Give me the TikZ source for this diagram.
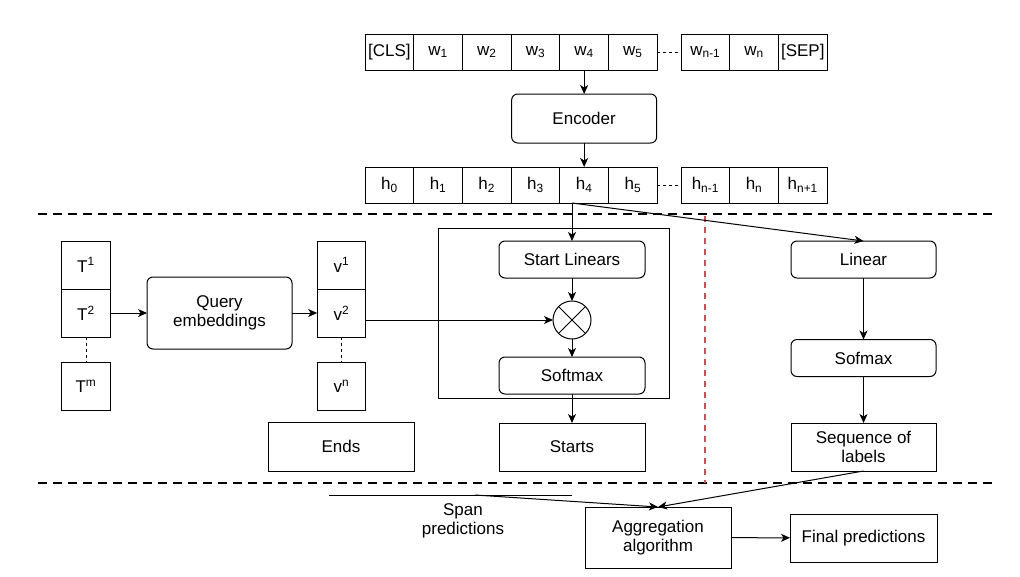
\documentclass[tikz,border=0pt]{standalone}
\usepackage{fontspec}
\setmainfont{Liberation Sans}
\usetikzlibrary{positioning,arrows.meta}
\definecolor{sepred}{RGB}{204,80,80}

\tikzset{
  cell/.style={draw, minimum width=48.7pt, minimum height=36pt, inner sep=0pt, outer sep=0pt},
  tcell/.style={cell, minimum height=48pt},
  block/.style={draw, align=center, inner sep=0pt, outer sep=0pt},
  rblock/.style={block, rounded corners=6pt},
  wide/.style={minimum width=146pt, minimum height=37pt},
  sepline/.style={line width=2pt, dash pattern=on 9pt off 6pt},
  gap/.style={dash pattern=on 3pt off 3pt}
}

\begin{document}
\begin{tikzpicture}[x=1pt, y=-1pt, line width=1pt,
  font=\fontsize{17}{19.5}\selectfont,
  >={Stealth[length=9pt, width=8pt, inset=2.5pt]}]

  \useasboundingbox (0,0) rectangle (1020,576);

  % Define nodes

  % input tokens
  \node[cell] (cls) at (389.35,52) {[CLS]};
  \node[cell, right=0pt of cls] (w1) {w\textsubscript{1}};
  \node[cell, right=0pt of w1] (w2) {w\textsubscript{2}};
  \node[cell, right=0pt of w2] (w3) {w\textsubscript{3}};
  \node[cell, right=0pt of w3] (w4) {w\textsubscript{4}};
  \node[cell, right=0pt of w4] (w5) {w\textsubscript{5}};
  \node[cell] (wn1) at (705.35,52) {w\textsubscript{n-1}};
  \node[cell, right=0pt of wn1] (wn) {w\textsubscript{n}};
  \node[cell, right=0pt of wn] (sep) {[SEP]};

  \node[rblock, minimum width=145pt, minimum height=49pt, below=24pt of w4] (enc) {Encoder};

  % hidden states
  \node[cell] (h0) at (389.35,185) {h\textsubscript{0}};
  \node[cell, right=0pt of h0] (h1) {h\textsubscript{1}};
  \node[cell, right=0pt of h1] (h2) {h\textsubscript{2}};
  \node[cell, right=0pt of h2] (h3) {h\textsubscript{3}};
  \node[cell, right=0pt of h3] (h4) {h\textsubscript{4}};
  \node[cell, right=0pt of h4] (h5) {h\textsubscript{5}};
  \node[cell] (hn1) at (705.35,185) {h\textsubscript{n-1}};
  \node[cell, right=0pt of hn1] (hn) {h\textsubscript{n}};
  \node[cell, right=0pt of hn] (hn2) {h\textsubscript{n+1}};

  % queries
  \node[tcell] (T1) at (86,265) {T\textsuperscript{1}};
  \node[tcell, below=0pt of T1] (T2) {T\textsuperscript{2}};
  \node[tcell] (Tm) at (86,386.5) {T\textsuperscript{m}};
  \node[rblock, minimum width=145pt, minimum height=72pt] (qe) at (219.5,313) {Query\\embeddings};
  \node[tcell] (v1) at (341.5,265) {v\textsuperscript{1}};
  \node[tcell, below=0pt of v1] (v2) {v\textsuperscript{2}};
  \node[tcell] (vn) at (341.5,386.5) {v\textsuperscript{n}};
  \node[block, minimum width=146pt, minimum height=49pt] (ends) at (341,446.5) {Ends};

  % span head
  \node[block, minimum width=231pt, minimum height=170pt] (head) at (553.5,313) {};
  \node[rblock, wide] (sl) at (572,259.5) {Start Linears};
  \node[draw, circle, minimum size=38pt, inner sep=0pt, outer sep=0pt] (ox) at (572,320) {};
  \node[rblock, wide] (sm) at (572,375.5) {Softmax};
  \node[block, minimum width=146pt, minimum height=48pt] (starts) at (572,447) {Starts};

  % sequence labelling head
  \node[rblock, wide, minimum width=145pt] (lin) at (863.5,259.5) {Linear};
  \node[rblock, wide, minimum width=145pt] (sof) at (863.5,358) {Sofmax};
  \node[block, minimum width=145pt, minimum height=48pt] (seq) at (863.5,447) {Sequence of\\labels};

  % aggregation
  \node[block, minimum width=146pt, minimum height=61pt] (agg) at (658,537.5) {Aggregation\\algorithm};
  \node[block, minimum width=147pt, minimum height=48pt] (fin) at (863.5,538) {Final predictions};
  \node[align=center] (spanlbl) at (463,521) {Span\\predictions};
  \coordinate (spanL) at (329,495);
  \coordinate (spanR) at (572,495);
  \coordinate (spanK) at (475,495);
  \coordinate (hsplit) at (h4.south -| sl.north);

  % Separators
  \draw[sepline] (38,214) -- (992,214);
  \draw[sepline] (38,483) -- (992,483);
  \draw[sepred, line width=1.5pt, dash pattern=on 6pt off 5pt] (705,216) -- (705,483);

  % Connect the nodes
  \draw[gap] (w5) -- (wn1);
  \draw[gap] (h5) -- (hn1);
  \draw[gap] (T2) -- (Tm);
  \draw[gap] (v2) -- (vn);
  \draw (ox.north west) -- (ox.south east) (ox.north east) -- (ox.south west);

  \draw[->] (w4) -- (enc);
  \draw[->] (enc) -- (h4.north -| enc);
  \draw[->] (hsplit) -- (sl);
  \draw[->] (hsplit) -- (lin.north);
  \draw[->] (T2) -- (qe);
  \draw[->] (qe) -- (v2);
  \draw[->] (v2.east |- ox) -- (ox);
  \draw[->] (sl) -- (ox);
  \draw[->] (ox) -- (sm);
  \draw[->] (sm) -- (starts);
  \draw[->] (lin) -- (sof);
  \draw[->] (sof) -- (seq);
  \draw (spanL) -- (spanR);
  \draw[->] (spanK) -- (agg.north);
  \draw[->] (seq.south) -- (agg.north);
  \draw[->] (agg) -- (fin);

\end{tikzpicture}
\end{document}
